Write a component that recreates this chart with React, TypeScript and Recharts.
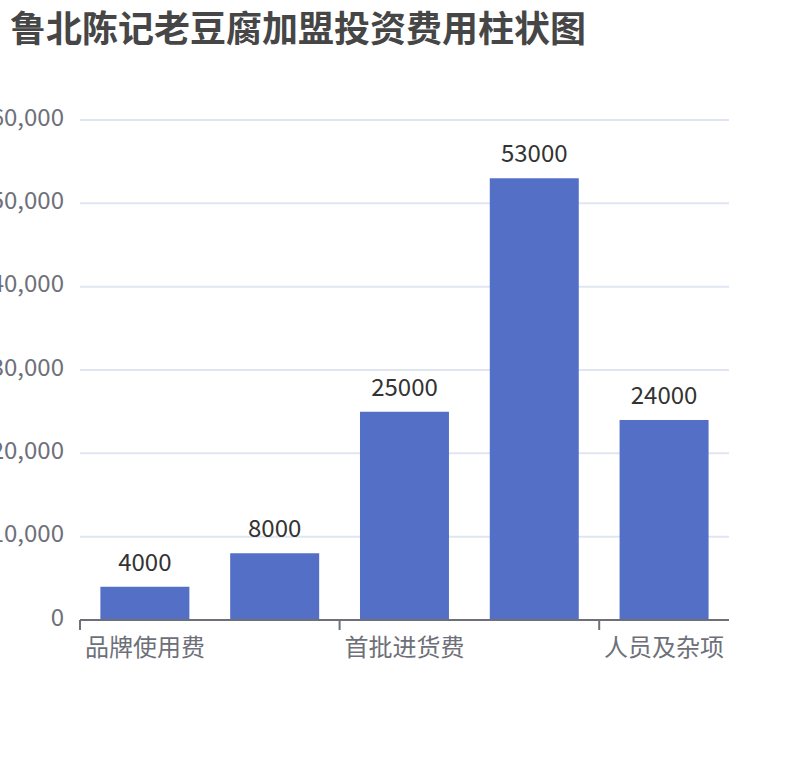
import { BarChart, Bar, XAxis, YAxis, CartesianGrid, LabelList } from 'recharts'

const categories = ['品牌使用费', '店面装修费', '首批进货费', '设备购置费', '人员及杂项']
const costs = [4000, 8000, 25000, 53000, 24000]
const yTicks = [0, 10000, 20000, 30000, 40000, 50000, 60000]

const data = categories.map((name, i) => ({ name, value: costs[i] }))

const FONT = '"Noto Sans CJK SC", "Noto Sans", sans-serif'
const AXIS_COLOR = '#6E7079'

function CategoryTick(props: any) {
  const { x, y, payload, index } = props
  const half = payload.offset ?? 0
  const isLast = index === categories.length - 1
  return (
    <g>
      <line x1={x - half} y1={y - 8} x2={x - half} y2={y + 2} stroke={AXIS_COLOR} strokeWidth={2} />
      {isLast && (
        <line x1={x + half} y1={y - 8} x2={x + half} y2={y + 2} stroke={AXIS_COLOR} strokeWidth={2} />
      )}
      <text x={x} y={y + 28} textAnchor="middle" fill={AXIS_COLOR} fontSize={24} fontFamily={FONT}>
        {payload.value}
      </text>
    </g>
  )
}

export default function App() {
  return (
    <div style={{ position: 'absolute', left: 0, top: 0, width: 810, height: 760, background: '#fff', fontFamily: FONT }}>
      <div
        style={{
          position: 'absolute',
          left: 10,
          top: 4,
          fontSize: 36,
          lineHeight: '44px',
          fontWeight: 'bold',
          color: '#464646',
        }}
      >
        鲁北陈记老豆腐加盟投资费用柱状图
      </div>
      <BarChart
        width={810}
        height={760}
        data={data}
        margin={{ top: 120, right: 81, bottom: 110, left: 0 }}
        barCategoryGap="15.7%"
      >
        <CartesianGrid vertical={false} stroke="#E0E6F1" strokeWidth={2} />
        <XAxis
          dataKey="name"
          interval={1}
          height={30}
          axisLine={{ stroke: AXIS_COLOR, strokeWidth: 2 }}
          tickLine={false}
          tick={<CategoryTick />}
        />
        <YAxis
          width={80}
          domain={[0, 60000]}
          ticks={yTicks}
          axisLine={false}
          tickLine={false}
          tickMargin={10}
          tickFormatter={(v: number) => v.toLocaleString('en-US')}
          tick={{ fill: AXIS_COLOR, fontSize: 24, fontFamily: FONT, dy: -3 }}
        />
        <Bar dataKey="value" fill="#5470C6" isAnimationActive={false}>
          <LabelList dataKey="value" position="top" offset={16} fill="#333" fontSize={24} fontFamily={FONT} />
        </Bar>
      </BarChart>
    </div>
  )
}
